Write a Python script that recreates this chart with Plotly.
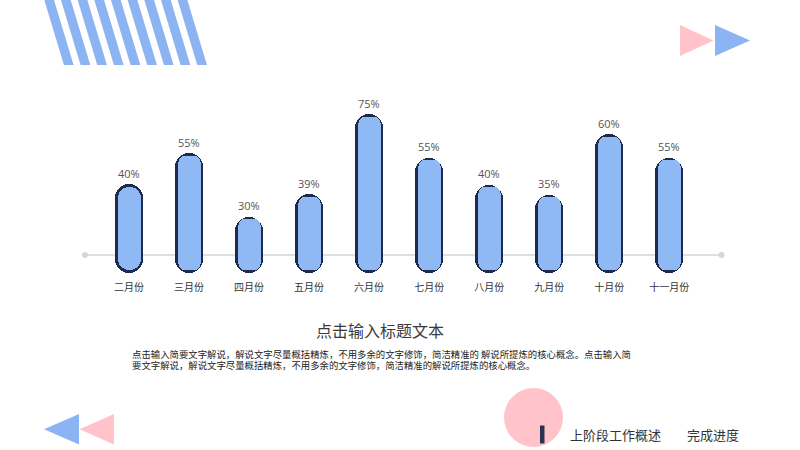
import plotly.graph_objects as go

# ---------------- data ----------------
months = ["二月份", "三月份", "四月份", "五月份", "六月份", "七月份", "八月份", "九月份", "十月份", "十一月份"]
pct_labels = ["40%", "55%", "30%", "39%", "75%", "55%", "40%", "35%", "60%", "55%"]
bar_heights = [37.7, 54.2, 20.4, 32.4, 75.0, 51.9, 37.5, 32.1, 64.3, 51.9]

title_text = "点击输入标题文本"
para_line1 = "点击输入简要文字解说，解说文字尽量概括精炼，不用多余的文字修饰，简洁精准的 解说所提炼的核心概念。点击输入简"
para_line2 = "要文字解说，解说文字尽量概括精炼，不用多余的文字修饰，简洁精准的解说所提炼的核心概念。"
footer_left = "上阶段工作概述"
footer_right = "完成进度"

# ---------------- style ----------------
W, H = 800, 450
BLUE = "#8FB9F5"
DARK = "#1F2B4C"
PINK = "#FFC3C9"
TRI_BLUE = "#8DB4F2"
FONT = "Noto Sans CJK SC"

PX_PER_CAT = 60.03     # horizontal pixels per category
PX_PER_UNIT = 1.876    # vertical pixels per value unit
X0_PX = 129            # pixel of first category
BASE_PX = 255          # pixel of baseline
AX_BOTTOM_PX = 280
OUT_PX = 28            # capsule outer width (px)
IN_PX = 23             # capsule inner width (px)
BOTTOM_PX = 272.7      # capsule bottom (px)
OUT_W = OUT_PX / PX_PER_CAT
IN_W = IN_PX / PX_PER_CAT
INSET = (OUT_PX - IN_PX) / 2 / PX_PER_UNIT
DEPTH = (BOTTOM_PX - BASE_PX) / PX_PER_UNIT   # extension below baseline (units)

Y_LO = -(AX_BOTTOM_PX - BASE_PX) / PX_PER_UNIT
Y_HI = BASE_PX / PX_PER_UNIT


def px(x):
    return x / W


def py(y):
    return 1 - y / H


fig = go.Figure()

n = len(months)
# upper part of capsules (primary axis, rounded top)
fig.add_trace(go.Bar(x=months, y=bar_heights, width=OUT_W, yaxis="y",
                     marker=dict(color=DARK, cornerradius="50%", line_width=0)))
fig.add_trace(go.Bar(x=months, y=[h - INSET for h in bar_heights], width=IN_W, yaxis="y",
                     marker=dict(color=BLUE, cornerradius="50%", line_width=0)))
# lower caps (mirrored axis, so the rounded end points down)
fig.add_trace(go.Bar(x=months, y=[DEPTH] * n, width=OUT_W, yaxis="y2",
                     marker=dict(color=DARK, cornerradius="50%", line_width=0)))
fig.add_trace(go.Bar(x=months, y=[DEPTH - INSET] * n, width=IN_W, yaxis="y2",
                     marker=dict(color=BLUE, cornerradius="50%", line_width=0)))

annotations = []
for m, h, t in zip(months, bar_heights, pct_labels):
    annotations.append(dict(x=m, y=h, xref="x", yref="y", text=t, showarrow=False,
                            yanchor="middle", yshift=11,
                            font=dict(family="Open Sans", size=11, color="#555555")))

annotations += [
    dict(x=px(380), y=py(330), xref="paper", yref="paper", text=title_text, showarrow=False,
         xanchor="center", yanchor="middle", font=dict(family=FONT, size=16, color="#3A3A3A")),
    dict(x=px(130), y=py(353.8), xref="paper", yref="paper", text=para_line1, showarrow=False,
         xanchor="left", yanchor="middle", font=dict(family=FONT, size=9.4, color="#222222")),
    dict(x=px(130), y=py(365), xref="paper", yref="paper", text=para_line2, showarrow=False,
         xanchor="left", yanchor="middle", font=dict(family=FONT, size=9.4, color="#222222")),
    dict(x=px(568), y=py(434), xref="paper", yref="paper", text=footer_left, showarrow=False,
         xanchor="left", yanchor="middle", font=dict(family=FONT, size=13, color="#333333")),
    dict(x=px(684.5), y=py(434), xref="paper", yref="paper", text=footer_right, showarrow=False,
         xanchor="left", yanchor="middle", font=dict(family=FONT, size=13, color="#333333")),
]

shapes = []
# baseline
shapes.append(dict(type="line", xref="paper", yref="paper", x0=px(85), x1=px(721.5),
                   y0=py(BASE_PX), y1=py(BASE_PX), line=dict(color="#E0E0E0", width=2), layer="below"))
for cx in (85, 721.5):
    shapes.append(dict(type="circle", xref="paper", yref="paper", x0=px(cx - 3), x1=px(cx + 3),
                       y0=py(BASE_PX - 3), y1=py(BASE_PX + 3), fillcolor="#D6D6D6",
                       line_width=0, layer="below"))


def tri(pts, color):
    path = "M " + " L ".join(f"{px(a):.5f},{py(b):.5f}" for a, b in pts) + " Z"
    return dict(type="path", xref="paper", yref="paper", path=path, fillcolor=color,
                line_width=0, layer="below")


# diagonal stripes top-left
for i in range(9):
    x = 44.3 + i * 16.67
    shapes.append(tri([(x, 0), (x + 9.7, 0), (x + 29.3, 65), (x + 19.6, 65)], TRI_BLUE))

# triangles top-right
shapes.append(tri([(680, 25), (680, 56), (713.5, 40.5)], PINK))
shapes.append(tri([(715, 25), (715, 56), (750, 40.5)], TRI_BLUE))
# triangles bottom-left
shapes.append(tri([(44, 429.3), (79, 414), (79, 444.5)], TRI_BLUE))
shapes.append(tri([(79.5, 429.3), (114, 414), (114, 444.5)], PINK))
# pink circle + dark mark
shapes.append(dict(type="circle", xref="paper", yref="paper", x0=px(504), x1=px(563),
                   y0=py(388), y1=py(447), fillcolor=PINK, line_width=0, layer="below"))
shapes.append(dict(type="rect", xref="paper", yref="paper", x0=px(540), x1=px(544.5),
                   y0=py(425.5), y1=py(443.5), fillcolor="#2A3352", line_width=0))

fig.update_layout(
    width=W, height=H,
    margin=dict(l=0, r=0, t=0, b=0),
    paper_bgcolor="white", plot_bgcolor="white",
    barmode="overlay", bargap=0, showlegend=False, hovermode=False,
    annotations=annotations, shapes=shapes,
    xaxis=dict(domain=[0, 1], range=[-X0_PX / PX_PER_CAT, (W - X0_PX) / PX_PER_CAT],
               showgrid=False, zeroline=False, showline=False, ticks="",
               tickfont=dict(family=FONT, size=10, color="#333333")),
    yaxis=dict(domain=[1 - AX_BOTTOM_PX / H, 1], range=[Y_LO, Y_HI],
               visible=False, showgrid=False, zeroline=False),
    yaxis2=dict(overlaying="y", range=[-Y_LO, -Y_HI],
                visible=False, showgrid=False, zeroline=False),
)

fig.write_html("out.html", config={"displayModeBar": False},
               post_script="document.body.style.margin='0';document.body.style.overflow='hidden';")
